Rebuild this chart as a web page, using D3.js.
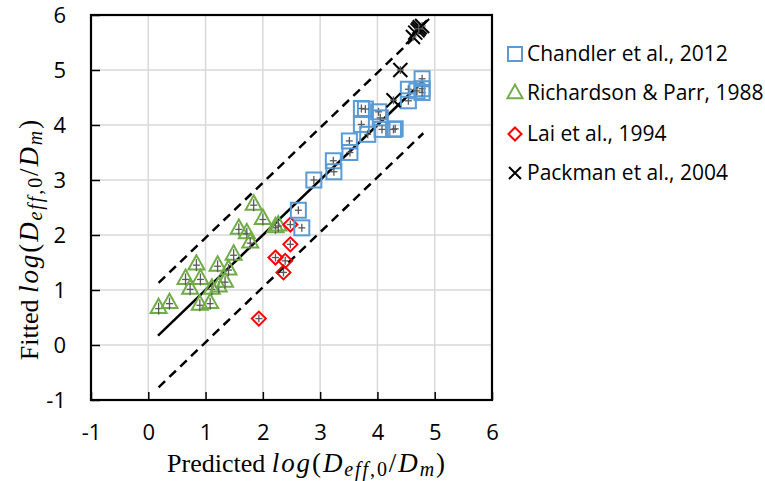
<!DOCTYPE html>
<html><head><meta charset="utf-8">
<script src="https://cdn.jsdelivr.net/npm/d3@7"></script>
<style>body{margin:0;background:#fff}svg{display:block}</style>
</head><body>
<svg id="c" width="765" height="481"></svg>
<script>
// ---- data ----
const chandlerX = [2.89,2.62,2.68,3.23,3.24,3.51,3.52,3.72,3.79,3.72,3.83,4.02,4.05,4.08,4.28,4.31,4.54,4.54,4.78,4.78,4.78,4.69];
const chandlerY = [3.00,2.45,2.13,3.35,3.15,3.71,3.50,4.30,4.29,4.01,3.83,4.24,4.13,3.92,3.92,3.93,4.65,4.44,4.84,4.66,4.59,4.62];
const richX = [0.18,0.37,0.65,0.84,0.73,0.91,0.90,1.08,1.11,1.21,1.23,1.34,1.40,1.49,1.58,1.72,1.78,1.84,2.00,2.22,2.27];
const richY = [0.68,0.77,1.21,1.47,1.03,1.21,0.74,0.77,1.03,1.45,1.07,1.16,1.38,1.65,2.12,2.04,1.87,2.56,2.30,2.15,2.18];
const laiX = [2.48,2.48,2.22,2.39,2.36,1.93];
const laiY = [2.19,1.83,1.59,1.53,1.32,0.48];
const packX = [4.40,4.28,4.62,4.66,4.70,4.74,4.78,4.72];
const packY = [5.00,4.45,5.60,5.68,5.72,5.78,5.80,5.75];
const fitLine = [[0.17,0.17],[4.80,4.80]];
const upperBound = [[0.18,1.13],[4.78,5.73]];
const lowerBound = [[0.18,-0.77],[4.80,3.85]];
const xTicks = [-1,0,1,2,3,4,5,6];
const yTicks = [-1,0,1,2,3,4,5,6];
const seriesNames = ["Chandler et al., 2012","Richardson & Parr, 1988","Lai et al., 1994","Packman et al., 2004"];

// ---- chart ----
const svg = d3.select("#c");
const x = d3.scaleLinear().domain([-1,6]).range([91,492]);
const y = d3.scaleLinear().domain([-1,6]).range([400,15]);
const tickFont = "'Open Sans', sans-serif";
const fmt = d => String(d);

// grid
svg.append("g").selectAll("line").data(xTicks).join("line")
  .attr("x1",d=>x(d)).attr("x2",d=>x(d)).attr("y1",y(-1)).attr("y2",y(6))
  .attr("stroke","#d9d9d9").attr("stroke-width",1.5);
svg.append("g").selectAll("line").data(yTicks).join("line")
  .attr("y1",d=>y(d)).attr("y2",d=>y(d)).attr("x1",x(-1)).attr("x2",x(6))
  .attr("stroke","#d9d9d9").attr("stroke-width",1.5);

// axes (ticks inward)
const xAxis = d3.axisBottom(x).tickValues(xTicks).tickSize(-8).tickFormat(fmt);
const gx = svg.append("g").attr("transform",`translate(0,${y(-1)})`).call(xAxis);
gx.select(".domain").remove();
gx.selectAll(".tick line").attr("stroke","#000").attr("stroke-width",1.5);
gx.selectAll(".tick text").attr("y",40).attr("dy",null)
  .attr("font-family",tickFont).attr("font-size",22).attr("fill","#000");

const yAxis = d3.axisLeft(y).tickValues(yTicks).tickSize(-9).tickFormat(fmt);
const gy = svg.append("g").attr("transform",`translate(${x(-1)},0)`).call(yAxis);
gy.select(".domain").remove();
gy.selectAll(".tick line").attr("stroke","#000").attr("stroke-width",1.5);
gy.selectAll(".tick text").attr("x",-25).attr("dy","0.36em")
  .attr("font-family",tickFont).attr("font-size",22).attr("fill","#000");

// frame
svg.append("rect").attr("x",x(-1)).attr("y",y(6)).attr("width",x(6)-x(-1)).attr("height",y(-1)-y(6))
  .attr("fill","none").attr("stroke","#000").attr("stroke-width",2.2);

// lines
const line = d3.line().x(d=>x(d[0])).y(d=>y(d[1]));
svg.append("path").attr("d",line(fitLine)).attr("stroke","#000").attr("stroke-width",2.5).attr("fill","none");
[upperBound,lowerBound].forEach(b=>{
  svg.append("path").attr("d",line(b)).attr("stroke","#000").attr("stroke-width",2.5)
   .attr("stroke-dasharray","9,6").attr("fill","none");
});

// markers
const blue="#5B9BD5", green="#70AD47", red="#FF0000", black="#000";
function errCross(g, cx, cy, hv){
  g.append("line").attr("x1",cx).attr("x2",cx).attr("y1",cy-hv).attr("y2",cy+hv).attr("stroke","#595959").attr("stroke-width",1.3);
  g.append("line").attr("x1",cx-3.5).attr("x2",cx+3.5).attr("y1",cy).attr("y2",cy).attr("stroke","#595959").attr("stroke-width",1.3);
}
function square(g,cx,cy,s){g.append("rect").attr("x",cx-s/2).attr("y",cy-s/2).attr("width",s).attr("height",s).attr("fill","none").attr("stroke",blue).attr("stroke-width",2);}
function tri(g,cx,cy,s){const h=s*0.9;g.append("path").attr("d",`M${cx},${cy-h*0.62}L${cx+s/2},${cy+h*0.38}L${cx-s/2},${cy+h*0.38}Z`).attr("fill","none").attr("stroke",green).attr("stroke-width",2);}
function diamond(g,cx,cy,s){g.append("path").attr("d",`M${cx},${cy-s/2}L${cx+s/2},${cy}L${cx},${cy+s/2}L${cx-s/2},${cy}Z`).attr("fill","none").attr("stroke",red).attr("stroke-width",2);}
function cross(g,cx,cy,s){const r=s/2;g.append("path").attr("d",`M${cx-r},${cy-r}L${cx+r},${cy+r}M${cx-r},${cy+r}L${cx+r},${cy-r}`).attr("fill","none").attr("stroke",black).attr("stroke-width",2);}

const gm = svg.append("g");
richX.forEach((v,i)=>{const cx=x(v),cy=y(richY[i]);tri(gm,cx,cy,16);errCross(gm,cx,cy+1,6);});
laiX.forEach((v,i)=>{const cx=x(v),cy=y(laiY[i]);diamond(gm,cx,cy,14);errCross(gm,cx,cy,4);});
chandlerX.forEach((v,i)=>{const cx=x(v),cy=y(chandlerY[i]);square(gm,cx,cy,15);errCross(gm,cx,cy,4);});
packX.forEach((v,i)=>{const cx=x(v),cy=y(packY[i]);cross(gm,cx,cy,14);errCross(gm,cx,cy,4);});

// legend
const lg = svg.append("g");
const rowY = [54,93,134,173];
const drawers=[(g,cx,cy)=>square(g,cx,cy,14),(g,cx,cy)=>tri(g,cx,cy,15),(g,cx,cy)=>diamond(g,cx,cy,13),(g,cx,cy)=>cross(g,cx,cy,12)];
seriesNames.forEach((n,i)=>{
  drawers[i](lg,515,rowY[i]);
  lg.append("text").attr("x",527).attr("y",rowY[i]).attr("dy","0.35em").text(n)
    .attr("font-family",tickFont).attr("font-size",21).attr("fill","#000");
});

// axis titles
const serif = "'Liberation Serif', 'Times New Roman', serif";
function mathTitle(t, label){
  t.attr("font-family",serif).attr("font-size",26).attr("fill","#000");
  t.append("tspan").text(label+" ");
  const m = (txt, opt) => {
    const s = t.append("tspan").text(txt).attr("letter-spacing",1.9);
    if(opt.it) s.attr("font-style","italic");
    s.attr("font-size", opt.sub ? 20 : 27);
    if(opt.dy) s.attr("dy",opt.dy);
    return s;
  };
  m("log",{it:1}); m("(",{}); m("D",{it:1});
  m("eff",{it:1,sub:1,dy:4}); m(",0",{sub:1});
  m("/",{dy:-4}); m("D",{it:1}); m("m",{it:1,sub:1,dy:4}); m(")",{dy:-4});
}
const xt = svg.append("text").attr("x",307).attr("y",472).attr("text-anchor","middle");
mathTitle(xt,"Predicted");
const yt = svg.append("text").attr("transform","translate(38,239) rotate(-90)").attr("text-anchor","middle");
mathTitle(yt,"Fitted");
</script>
</body></html>
